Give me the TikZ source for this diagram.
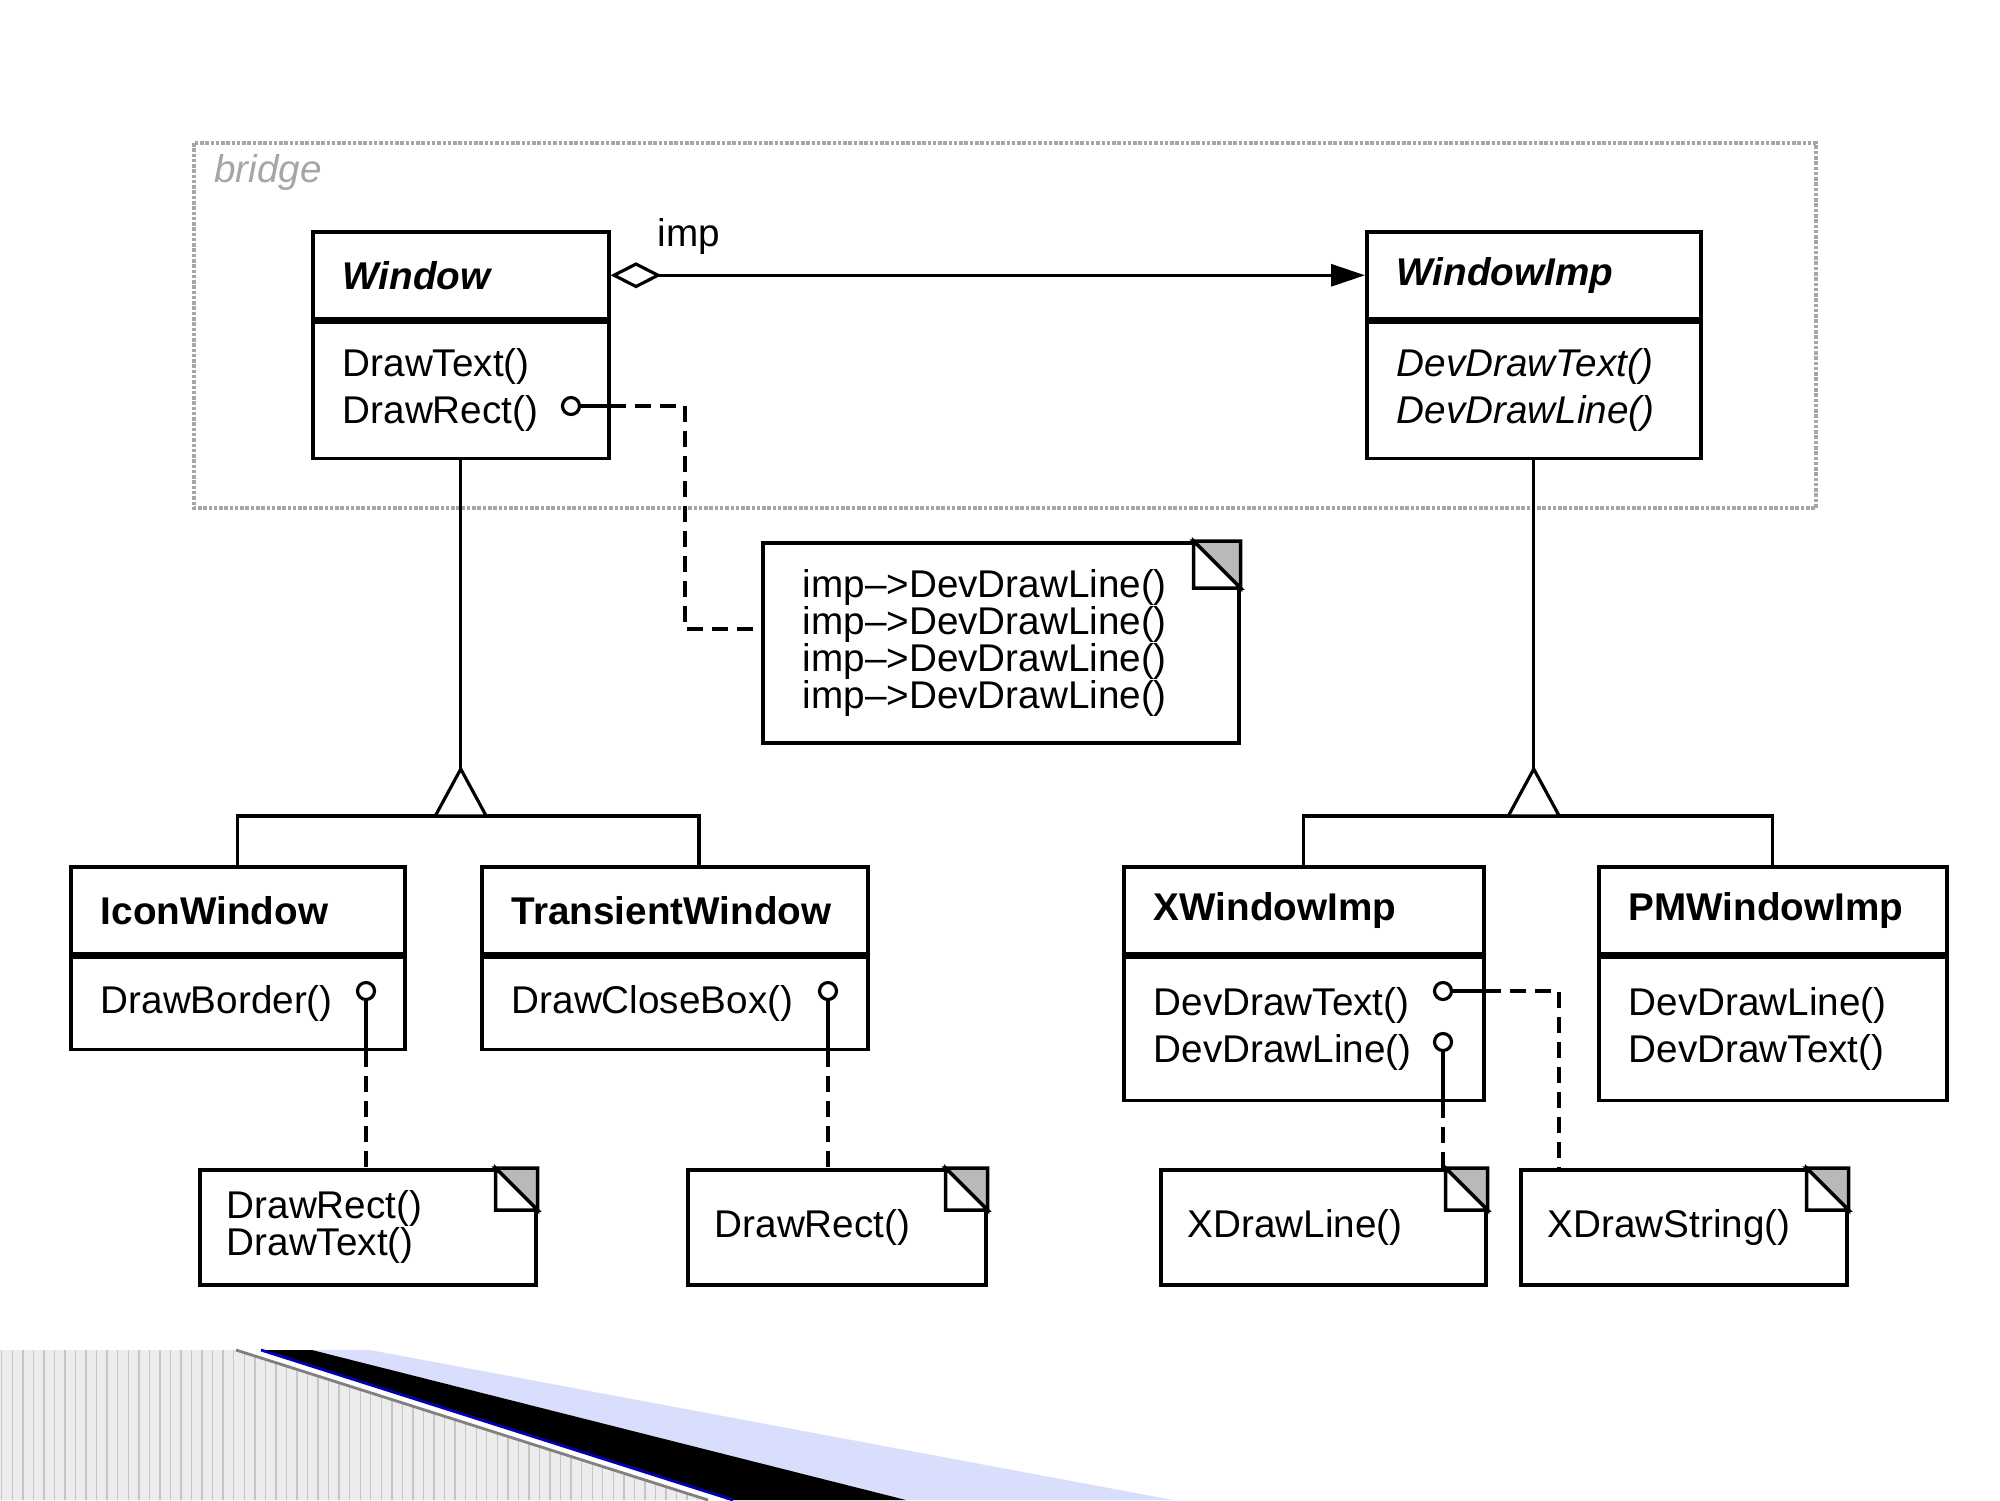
\documentclass[tikz,border=0pt]{standalone}
\usepackage{fontspec}
\setmainfont{Liberation Sans}
\usetikzlibrary{arrows.meta}
\usetikzlibrary{calc}
\usetikzlibrary{patterns}

\definecolor{bandblue}{RGB}{216,222,252}

\tikzset{
  classhead/.style={draw, line width=1pt, anchor=north west, text width=#1,
    inner xsep=0.3cm, minimum height=0.87cm, align=left,
    font=\fontsize{11}{13.4}\selectfont\bfseries},
  classbody/.style={draw, line width=1pt, anchor=north west, text width=#1,
    inner xsep=0.3cm, align=left, font=\fontsize{11}{13.4}\selectfont},
  notebox/.style={draw, line width=1pt, anchor=north west, text width=#1,
    inner xsep=0.27cm, minimum height=1.15cm, align=left,
    font=\fontsize{11}{10.5}\selectfont},
  link/.style={line width=0.9pt},
  notelink/.style={line width=0.9pt, dash pattern=on 4.5pt off 2.6pt},
  pinhead/.style={line width=0.9pt, fill=white}
}

\begin{document}
\begin{tikzpicture}
\useasboundingbox (0,0) rectangle (20,-15);
% bridge frame
\draw[gray!70, line width=0.9pt, dash pattern=on 1pt off 0.5pt]
  (1.94,-1.43) rectangle (18.16,-5.08);
\node[anchor=west, text=gray!70, font=\fontsize{11}{13}\selectfont\itshape]
  (bridge) at (2.02,-1.72) {bridge};
%
\node[classhead=2.36cm] (window) at (3.11,-2.30) {\textit{Window}};
\node[classbody=2.36cm, minimum height=1.36cm] (windowops)
  at (window.south west) {DrawText()\\DrawRect()};
%
\node[classhead=2.74cm] (wimp) at (13.65,-2.30) {\textit{WindowImp}};
\node[classbody=2.74cm, minimum height=1.36cm,
  font=\fontsize{11}{13.4}\selectfont\itshape] (wimpops)
  at (wimp.south west) {DevDrawText()\\DevDrawLine()};
%
\node[notebox=3.96cm, inner xsep=0.40cm, minimum height=2.00cm] (imps)
  at (7.61,-5.41) {imp–>DevDrawLine()\\imp–>DevDrawLine()\\imp–>DevDrawLine()\\imp–>DevDrawLine()};
%
\node[classhead=2.74cm] (iconwin) at (0.69,-8.65) {IconWindow};
\node[classbody=2.74cm, minimum height=0.92cm] (iconops)
  at (iconwin.south west) {DrawBorder()};
\node[classhead=3.26cm] (transwin) at (4.80,-8.65) {TransientWindow};
\node[classbody=3.26cm, minimum height=0.92cm] (transops)
  at (transwin.south west) {DrawCloseBox()};
%
\node[classhead=3.00cm] (xwin) at (11.22,-8.65) {XWindowImp};
\node[classbody=3.00cm, minimum height=1.43cm] (xwinops)
  at (xwin.south west) {DevDrawText()\\DevDrawLine()};
\node[classhead=2.88cm] (pmwin) at (15.97,-8.65) {PMWindowImp};
\node[classbody=2.88cm, minimum height=1.43cm] (pmwinops)
  at (pmwin.south west) {DevDrawLine()\\DevDrawText()};
%
\node[notebox=2.82cm] (iconnote) at (1.98,-11.68) {DrawRect()\\DrawText()};
\node[notebox=2.44cm] (transnote) at (6.86,-11.68) {DrawRect()};
\node[notebox=2.71cm] (xlinenote) at (11.59,-11.68) {XDrawLine()};
\node[notebox=2.72cm] (xstrnote) at (15.19,-11.68) {XDrawString()};
%
\foreach \n/\d in {imps/0.47, iconnote/0.42, transnote/0.42, xlinenote/0.42, xstrnote/0.42} {
  \filldraw[fill=gray!55, line width=1pt] (\n.north east) -- ++(-\d,0) -- ++(\d,-\d) -- cycle;
  \draw[line width=1pt, fill=white] (\n.north east) ++(-\d,0) -- ++(0,-\d) -- ++(\d,0) -- cycle;
}
%
\draw[link, {Diamond[open, length=5.1mm, width=2.6mm]}-{Triangle[length=3.4mm, width=2.2mm]}]
  (window.east) -- (wimp.west);
\node[font=\fontsize{11}{13}\selectfont] (implabel) at (6.89,-2.36) {imp};
%
\coordinate (wapex) at (windowops.south |- 0,-7.69);
\coordinate (twtop) at (6.99,-8.65);
\draw[link] (windowops.south) -- (wapex);
\draw[link] (iconwin.north) |- ($(wapex)+(0,-0.47)$) -| (twtop);
\draw[link, fill=white] (wapex) -- ++(-0.255,-0.47) -- ++(0.51,0) -- cycle;
%
\coordinate (wiapex) at (wimpops.south |- 0,-7.69);
\draw[link] (wimpops.south) -- (wiapex);
\draw[link] (xwin.north) |- ($(wiapex)+(0,-0.47)$) -| (pmwin.north);
\draw[link, fill=white] (wiapex) -- ++(-0.255,-0.47) -- ++(0.51,0) -- cycle;
%
\coordinate (drawrect) at (5.71,-4.06);
\coordinate (bendA) at (6.85,-6.29);
\draw[link] (drawrect) -- (windowops.east |- drawrect);
\draw[notelink] (windowops.east |- drawrect) -| (bendA) -- (imps.west |- bendA);
\draw[pinhead] (drawrect) circle (0.085);
%
\coordinate (drawborder) at (3.66,-9.91);
\draw[link] (drawborder) -- (iconops.south -| drawborder);
\draw[notelink] (iconops.south -| drawborder) -- (iconnote.north -| drawborder);
\draw[pinhead] (drawborder) circle (0.085);
%
\coordinate (closebox) at (8.28,-9.91);
\draw[link] (closebox) -- (transops.south -| closebox);
\draw[notelink] (transops.south -| closebox) -- (transnote.north -| closebox);
\draw[pinhead] (closebox) circle (0.085);
%
\coordinate (devtext) at (14.43,-9.91);
\coordinate (bendB) at (15.59,-9.91);
\draw[link] (devtext) -- (xwinops.east |- devtext);
\draw[notelink] (xwinops.east |- devtext) -- (bendB) -- (xstrnote.north -| bendB);
\draw[pinhead] (devtext) circle (0.085);
%
\coordinate (devline) at (14.43,-10.42);
\draw[link] (devline) -- (xwinops.south -| devline);
\draw[notelink] (xwinops.south -| devline) -- (xlinenote.north -| devline);
\draw[pinhead] (devline) circle (0.085);
%
% slide band
\fill[gray!15] (0,-13.5) -- (2.36,-13.5) -- (7.08,-15) -- (0,-15) -- cycle;
\fill[pattern=vertical lines, pattern color=gray!45]
  (0,-13.5) -- (2.36,-13.5) -- (7.08,-15) -- (0,-15) -- cycle;
\draw[gray, line width=0.8pt] (2.36,-13.5) -- (7.08,-15);
\fill[bandblue] (3.12,-13.5) -- (3.70,-13.5) -- (11.73,-15) -- (9.06,-15) -- cycle;
\fill[black] (2.61,-13.5) -- (3.12,-13.5) -- (9.06,-15) -- (7.33,-15) -- cycle;
\draw[blue!70!black, line width=0.8pt] (2.61,-13.5) -- (7.33,-15);
\end{tikzpicture}
\end{document}
